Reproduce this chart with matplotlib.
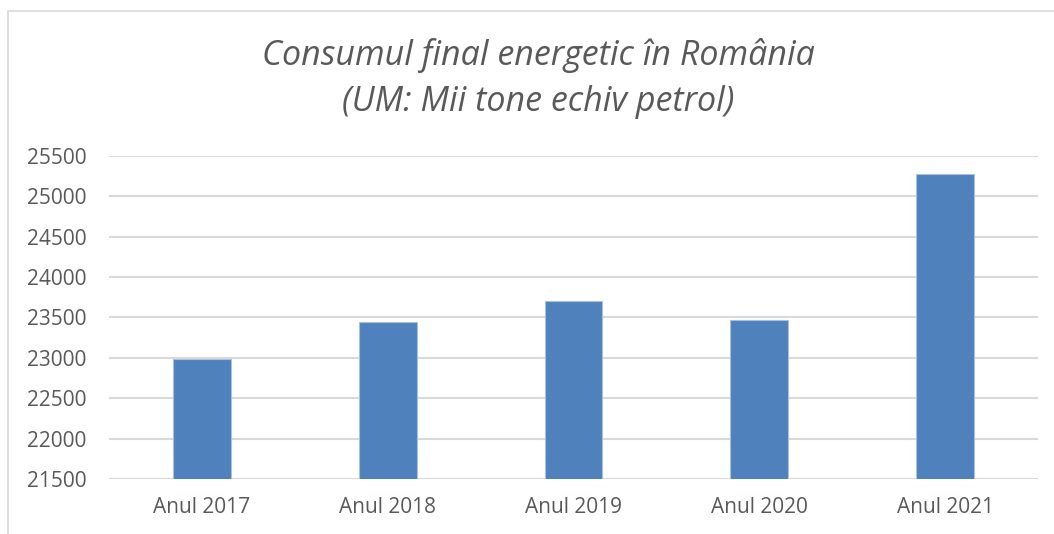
import matplotlib
matplotlib.use("Agg")
import matplotlib.pyplot as plt
from matplotlib.patches import Rectangle

years = ["Anul 2017", "Anul 2018", "Anul 2019", "Anul 2020", "Anul 2021"]
consum = [22982, 23444, 23708, 23469, 25277]
y_ticks = [21500, 22000, 22500, 23000, 23500, 24000, 24500, 25000, 25500]

W, H = 1054, 534
fig = plt.figure(figsize=(W / 100, H / 100), dpi=100)
fig.patch.set_facecolor("white")

# chart-area frame
fig.add_artist(Rectangle((8 / W, -0.1), 1.2, 1 - 11 / H + 0.1, transform=fig.transFigure,
                         fill=False, edgecolor="#d9d9d9", linewidth=1.2))

ax = fig.add_axes([109 / W, 1 - 479 / H, (1038 - 109) / W, (479 - 156) / H])
x = range(len(years))
ax.bar(x, consum, width=0.312, bottom=0, color="#4f81bd", edgecolor="#a9c0e0",
       linewidth=0.8, zorder=3)
ax.set_xlim(-0.5, len(years) - 0.5)
ax.set_ylim(y_ticks[0], y_ticks[-1])
ax.set_yticks(y_ticks)
ax.set_yticklabels([str(v) for v in y_ticks])
ax.set_xticks(list(x))
ax.set_xticklabels(years)
ax.grid(axis="y", color="#d9d9d9", linewidth=1.5, zorder=0)
ax.set_axisbelow(True)
for s in ax.spines.values():
    s.set_visible(False)
ax.tick_params(length=0, labelsize=15, colors="#595959")
ax.tick_params(axis="x", pad=13)
ax.tick_params(axis="y", pad=16)
for lbl in ax.get_xticklabels() + ax.get_yticklabels():
    lbl.set_fontfamily("Open Sans")

fig.text(538 / W, 1 - 65 / H, "Consumul final energetic în România", ha="center", va="baseline",
         fontsize=24.5, style="italic", color="#595959", family="Open Sans")
fig.text(538 / W, 1 - 111 / H, "(UM: Mii tone echiv petrol)", ha="center", va="baseline",
         fontsize=24.5, style="italic", color="#595959", family="Open Sans")

fig.savefig("out.png", dpi=100, facecolor="white")
